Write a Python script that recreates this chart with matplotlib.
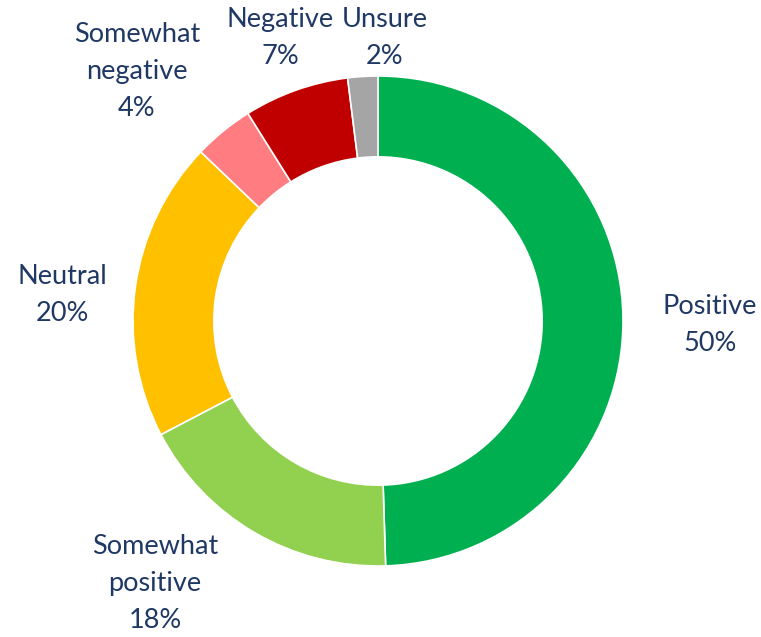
import matplotlib
matplotlib.use("Agg")
import matplotlib.pyplot as plt

# datos del gráfico (sentido horario desde arriba)
categorias = ["Positive", "Somewhat\npositive", "Neutral", "Somewhat\nnegative", "Negative", "Unsure"]
porcentajes = [50, 18, 20, 4, 7, 2]
colores = ["#00B050", "#92D050", "#FFC000", "#FF7C80", "#C00000", "#A5A5A5"]

# posiciones de las etiquetas en pixeles (x, y desde arriba)
pos_etiquetas = [(710, 325), (155, 583), (62, 295), (137, 72), (280, 38), (385, 38)]

ANCHO, ALTO = 761, 637
COLOR_TEXTO = "#1F3864"

plt.rcParams["font.family"] = ["Lato", "DejaVu Sans"]

fig = plt.figure(figsize=(ANCHO / 100, ALTO / 100), dpi=100)
eje = fig.add_axes([0, 0, 1, 1])

eje.pie(
    porcentajes,
    colors=colores,
    startangle=90,
    counterclock=False,
    center=(378, ALTO - 321),
    radius=245,
    wedgeprops=dict(width=245 * 0.33, edgecolor="white", linewidth=1.2),
    frame=True,
)
eje.set_xlim(0, ANCHO)
eje.set_ylim(0, ALTO)
eje.set_aspect("equal")
eje.axis("off")

for cat, pct, (x, y) in zip(categorias, porcentajes, pos_etiquetas):
    eje.text(x, ALTO - y, f"{cat}\n{pct}%", ha="center", va="center",
             fontsize=19.5, color=COLOR_TEXTO, linespacing=1.6)

fig.savefig("out.png", dpi=100)
